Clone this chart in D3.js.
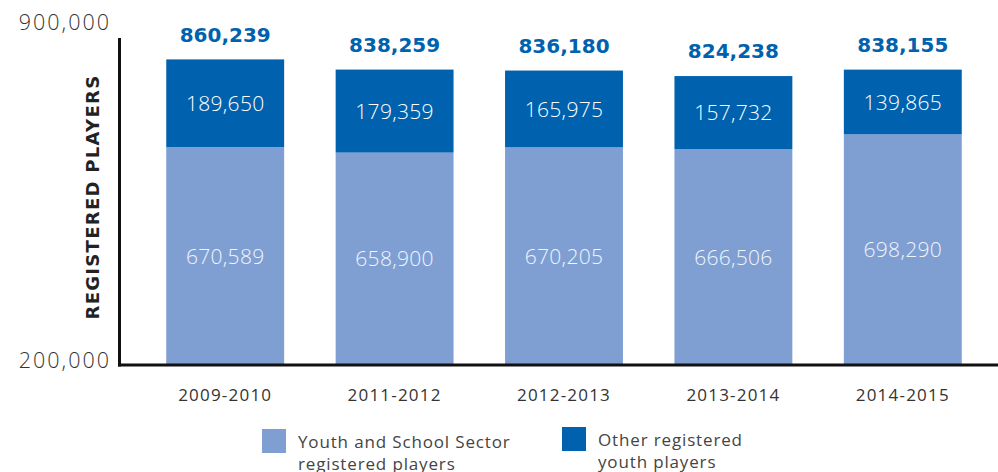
<!DOCTYPE html>
<html>
<head>
<meta charset="utf-8">
<script src="https://cdn.jsdelivr.net/npm/d3@7"></script>
<style>
  html, body { margin: 0; padding: 0; background: #fff; }
  svg { display: block; }
</style>
</head>
<body>
<svg id="chart" width="998" height="472"></svg>
<script>
// Registered youth players by season
const seasons = ["2009-2010", "2011-2012", "2012-2013", "2013-2014", "2014-2015"];
const youthSchoolPlayers = [670589, 658900, 670205, 666506, 698290];
const otherYouthPlayers = [189650, 179359, 165975, 157732, 139865];
const axisTicks = [200000, 900000];

const colors = { youth: "#7f9fd3", other: "#0062ae" };
const fmt = d3.format(",");

const svg = d3.select("#chart");

const x = d3.scaleBand()
  .domain(seasons)
  .range([140.5, 987.5])
  .paddingInner(0.304)
  .paddingOuter(0.152);

const y = d3.scaleLinear()
  .domain([200000, 900000])
  .range([365, 41]);

const rows = seasons.map((s, i) => ({
  season: s,
  youth: youthSchoolPlayers[i],
  other: otherYouthPlayers[i],
  total: youthSchoolPlayers[i] + otherYouthPlayers[i]
}));

const stack = d3.stack().keys(["youth", "other"]);
const layers = stack(rows.map(r => ({ youth: r.youth, other: r.other })));

const g = svg.append("g");

layers.forEach(layer => {
  const key = layer.key;
  // bars rise from the bottom of the truncated axis
  g.selectAll("rect." + key)
    .data(layer)
    .join("rect")
    .attr("class", key)
    .attr("x", (d, i) => x(seasons[i]))
    .attr("width", x.bandwidth())
    .attr("y", d => y(d[1]))
    .attr("height", d => y(Math.max(d[0], 200000)) - y(d[1]))
    .attr("fill", colors[key]);

  // segment value labels, centred in each segment
  g.selectAll("text." + key)
    .data(layer)
    .join("text")
    .attr("class", key)
    .attr("x", (d, i) => x(seasons[i]) + x.bandwidth() / 2)
    .attr("y", d => (y(Math.max(d[0], 200000)) + y(d[1])) / 2)
    .attr("dy", "0.36em")
    .attr("text-anchor", "middle")
    .attr("font-family", "'Open Sans', sans-serif")
    .attr("font-weight", 300)
    .attr("font-size", 21)
    .attr("letter-spacing", 0.3)
    .attr("fill", key === "youth" ? "#f0f4fb" : "#ffffff")
    .text(d => fmt(d[1] - d[0]));
});

// totals above each bar
g.selectAll("text.total")
  .data(rows)
  .join("text")
  .attr("class", "total")
  .attr("x", d => x(d.season) + x.bandwidth() / 2)
  .attr("y", d => y(d.total) - 25)
  .attr("dy", "0.36em")
  .attr("text-anchor", "middle")
  .attr("font-family", "'DejaVu Sans', sans-serif")
  .attr("font-weight", 700)
  .attr("font-size", 20)
  .attr("fill", colors.other)
  .text(d => fmt(d.total));

// x axis labels
const xAxis = svg.append("g")
  .attr("transform", `translate(0,${y(200000)})`)
  .call(d3.axisBottom(x).tickSize(0).tickPadding(24));
xAxis.select(".domain").remove();
xAxis.selectAll("text")
  .attr("font-family", "'Open Sans', sans-serif")
  .attr("font-size", 17)
  .attr("letter-spacing", 1.2)
  .attr("fill", "#333");

// y axis end labels
const yAxis = svg.append("g")
  .attr("transform", "translate(111,0)")
  .call(d3.axisLeft(y).tickValues(axisTicks).tickSize(0).tickPadding(0).tickFormat(fmt));
yAxis.select(".domain").remove();
yAxis.selectAll("text")
  .attr("font-family", "'Open Sans', sans-serif")
  .attr("font-weight", 300)
  .attr("font-size", 21.5)
  .attr("letter-spacing", 2)
  .attr("fill", "#333")
  .attr("dy", d => d === 900000 ? "-0.55em" : "0.1em");

// axis lines
svg.append("line")
  .attr("x1", 119.5).attr("x2", 119.5)
  .attr("y1", y(900000) - 3).attr("y2", y(200000) + 1.5)
  .attr("stroke", "#111").attr("stroke-width", 3);
svg.append("line")
  .attr("x1", 118).attr("x2", 998)
  .attr("y1", y(200000)).attr("y2", y(200000))
  .attr("stroke", "#111").attr("stroke-width", 3);

// y axis title
svg.append("text")
  .attr("transform", `translate(93,${(y(200000) + y(900000)) / 2 - 6}) rotate(-90)`)
  .attr("dy", "0.36em")
  .attr("text-anchor", "middle")
  .attr("font-family", "'DejaVu Sans', sans-serif")
  .attr("font-weight", 700)
  .attr("font-size", 18)
  .attr("letter-spacing", 1.3)
  .attr("fill", "#222")
  .text("REGISTERED PLAYERS");

// legend
const legendItems = [
  { key: "youth", lines: ["Youth and School Sector", "registered players"], x: 262, y: 429 },
  { key: "other", lines: ["Other registered", "youth players"], x: 562, y: 427 }
];
const legend = svg.append("g");
legendItems.forEach(item => {
  const lg = legend.append("g").attr("transform", `translate(${item.x},${item.y})`);
  lg.append("rect").attr("width", 24).attr("height", 24).attr("fill", colors[item.key]);
  lg.selectAll("text")
    .data(item.lines)
    .join("text")
    .attr("x", 36)
    .attr("y", (d, j) => 13 + j * 21.5)
    .attr("dy", "0.36em")
    .attr("font-family", "'Open Sans', sans-serif")
    .attr("font-size", 17)
    .attr("letter-spacing", 0.85)
    .attr("fill", "#444")
    .text(d => d);
});
</script>
</body>
</html>
